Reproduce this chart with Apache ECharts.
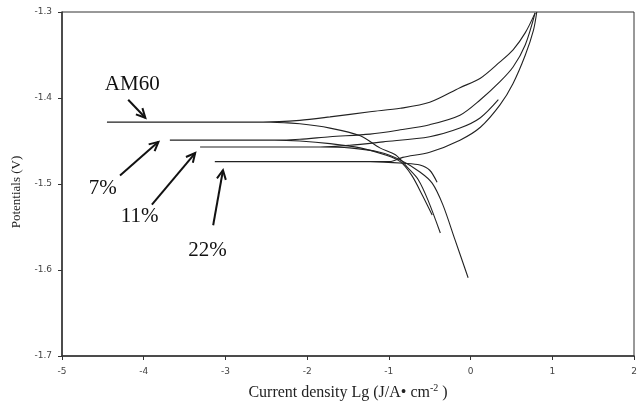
<!DOCTYPE html>
<html>
<head>
<meta charset="utf-8">
<script src="https://cdn.jsdelivr.net/npm/echarts@6/dist/echarts.min.js"></script>
<style>html,body{margin:0;padding:0;background:#fff}#c{width:644px;height:403px}</style>
</head>
<body>
<div id="c"></div>
<script>
// Polarization curves: [log current density, potential V], in sweep order
var am60 = [[-0.37,-1.557],[-0.52,-1.519],[-0.64,-1.495],[-0.77,-1.481],[-0.92,-1.466],[-1.11,-1.458],[-1.35,-1.444],[-1.72,-1.435],[-2.09,-1.430],[-2.45,-1.428],[-4.45,-1.428],[-2.54,-1.428],[-2.09,-1.426],[-1.72,-1.422],[-1.23,-1.416],[-0.86,-1.412],[-0.50,-1.405],[-0.13,-1.388],[0.12,-1.377],[0.36,-1.358],[0.52,-1.344],[0.67,-1.324],[0.79,-1.301]];
var p7 = [[-0.47,-1.536],[-0.59,-1.513],[-0.72,-1.490],[-0.86,-1.474],[-1.05,-1.466],[-1.35,-1.458],[-1.72,-1.453],[-2.09,-1.450],[-2.4,-1.449],[-3.68,-1.449],[-2.4,-1.449],[-2.09,-1.448],[-1.72,-1.445],[-1.23,-1.442],[-0.86,-1.437],[-0.50,-1.431],[-0.13,-1.420],[0.12,-1.402],[0.36,-1.381],[0.52,-1.364],[0.67,-1.338],[0.79,-1.301]];
var p11 = [[-0.03,-1.609],[-0.19,-1.565],[-0.34,-1.524],[-0.47,-1.499],[-0.62,-1.486],[-0.86,-1.472],[-1.11,-1.463],[-1.48,-1.458],[-1.84,-1.457],[-3.31,-1.457],[-1.84,-1.457],[-1.48,-1.455],[-1.07,-1.451],[-0.50,-1.445],[-0.13,-1.435],[0.12,-1.423],[0.34,-1.402]];
var p22 = [[-0.41,-1.498],[-0.50,-1.484],[-0.62,-1.478],[-0.80,-1.476],[-1.23,-1.474],[-3.13,-1.474],[-0.99,-1.474],[-0.83,-1.469],[-0.50,-1.463],[-0.13,-1.449],[0.12,-1.434],[0.36,-1.408],[0.52,-1.383],[0.67,-1.350],[0.77,-1.321],[0.81,-1.300]];
var seriesNames = ['AM60','7%','11%','22%'];
var xTicks = [-5,-4,-3,-2,-1,0,1,2];
var yTicks = [-1.7,-1.6,-1.5,-1.4,-1.3];
// annotation labels [x, y] and arrows [tail, tip] in data coordinates
var labelPos = [[-4.14,-1.384],[-4.50,-1.505],[-4.05,-1.538],[-3.22,-1.577]];
var arrowTail = [[-4.19,-1.402],[-4.29,-1.490],[-3.90,-1.524],[-3.15,-1.548]];
var arrowTip = [[-3.98,-1.423],[-3.82,-1.451],[-3.37,-1.464],[-3.03,-1.484]];

var chart = echarts.init(document.getElementById('c'));
var lineCol = '#222';
function mk(name, d){
  return {name:name,type:'line',data:d,showSymbol:false,smooth:0.3,
    lineStyle:{color:lineCol,width:1.1},itemStyle:{color:lineCol},animation:false};
}
chart.setOption({
  animation:false,
  grid:{left:62,right:10,top:12,bottom:47,containLabel:false,outerBoundsMode:'none',show:true,borderColor:'#333',borderWidth:1},
  xAxis:{type:'value',min:xTicks[0],max:xTicks[xTicks.length-1],interval:1,
    name:'Current density Lg (J/A\u2022 cm{sup|-2} )',nameLocation:'middle',nameGap:27,
    nameTextStyle:{fontFamily:'Liberation Serif',fontSize:16,color:'#222',
      rich:{sup:{fontFamily:'Liberation Serif',fontSize:10,verticalAlign:'top',padding:[0,0,9,0],color:'#222'}}},
    axisLine:{onZero:false,lineStyle:{color:'#333',width:1.5}},axisTick:{length:4,lineStyle:{color:'#333'}},
    axisLabel:{fontSize:9,color:'#444',margin:11,fontFamily:'DejaVu Sans'},splitLine:{show:false}},
  yAxis:{type:'value',min:yTicks[0],max:yTicks[yTicks.length-1],interval:0.1,
    name:'Potentials (V)',nameLocation:'middle',nameGap:34,nameRotate:90,
    nameTextStyle:{fontFamily:'Liberation Serif',fontSize:13,color:'#222',padding:[0,0,0,-16]},
    axisLine:{onZero:false,lineStyle:{color:'#333',width:1.5}},axisTick:{length:4,lineStyle:{color:'#333'}},
    axisLabel:{fontSize:9,color:'#444',margin:10,fontFamily:'DejaVu Sans',
      formatter:function(v){return (Math.round(v*10)/10).toFixed(1);}},splitLine:{show:false}},
  series:[mk(seriesNames[0],am60),mk(seriesNames[1],p7),mk(seriesNames[2],p11),mk(seriesNames[3],p22)]
});

var g = [];
for (var i=0;i<seriesNames.length;i++){
  var lp = chart.convertToPixel({gridIndex:0}, labelPos[i]);
  g.push({type:'text',x:lp[0],y:lp[1],style:{text:seriesNames[i],fontFamily:'Liberation Serif',fontSize:21,fill:'#111',align:'center',verticalAlign:'middle'}});
  var a = chart.convertToPixel({gridIndex:0}, arrowTail[i]);
  var b = chart.convertToPixel({gridIndex:0}, arrowTip[i]);
  var dx=b[0]-a[0], dy=b[1]-a[1], L=Math.sqrt(dx*dx+dy*dy), ux=dx/L, uy=dy/L;
  var h=9, w=4.5;
  var p1=[b[0]-ux*h-uy*w, b[1]-uy*h+ux*w], p2=[b[0]-ux*h+uy*w, b[1]-uy*h-ux*w];
  g.push({type:'line',shape:{x1:a[0],y1:a[1],x2:b[0],y2:b[1]},style:{stroke:'#111',lineWidth:2}});
  g.push({type:'polyline',shape:{points:[p1,b,p2]},style:{stroke:'#111',lineWidth:2,fill:null}});
}
chart.setOption({graphic:g});
</script>
</body>
</html>
